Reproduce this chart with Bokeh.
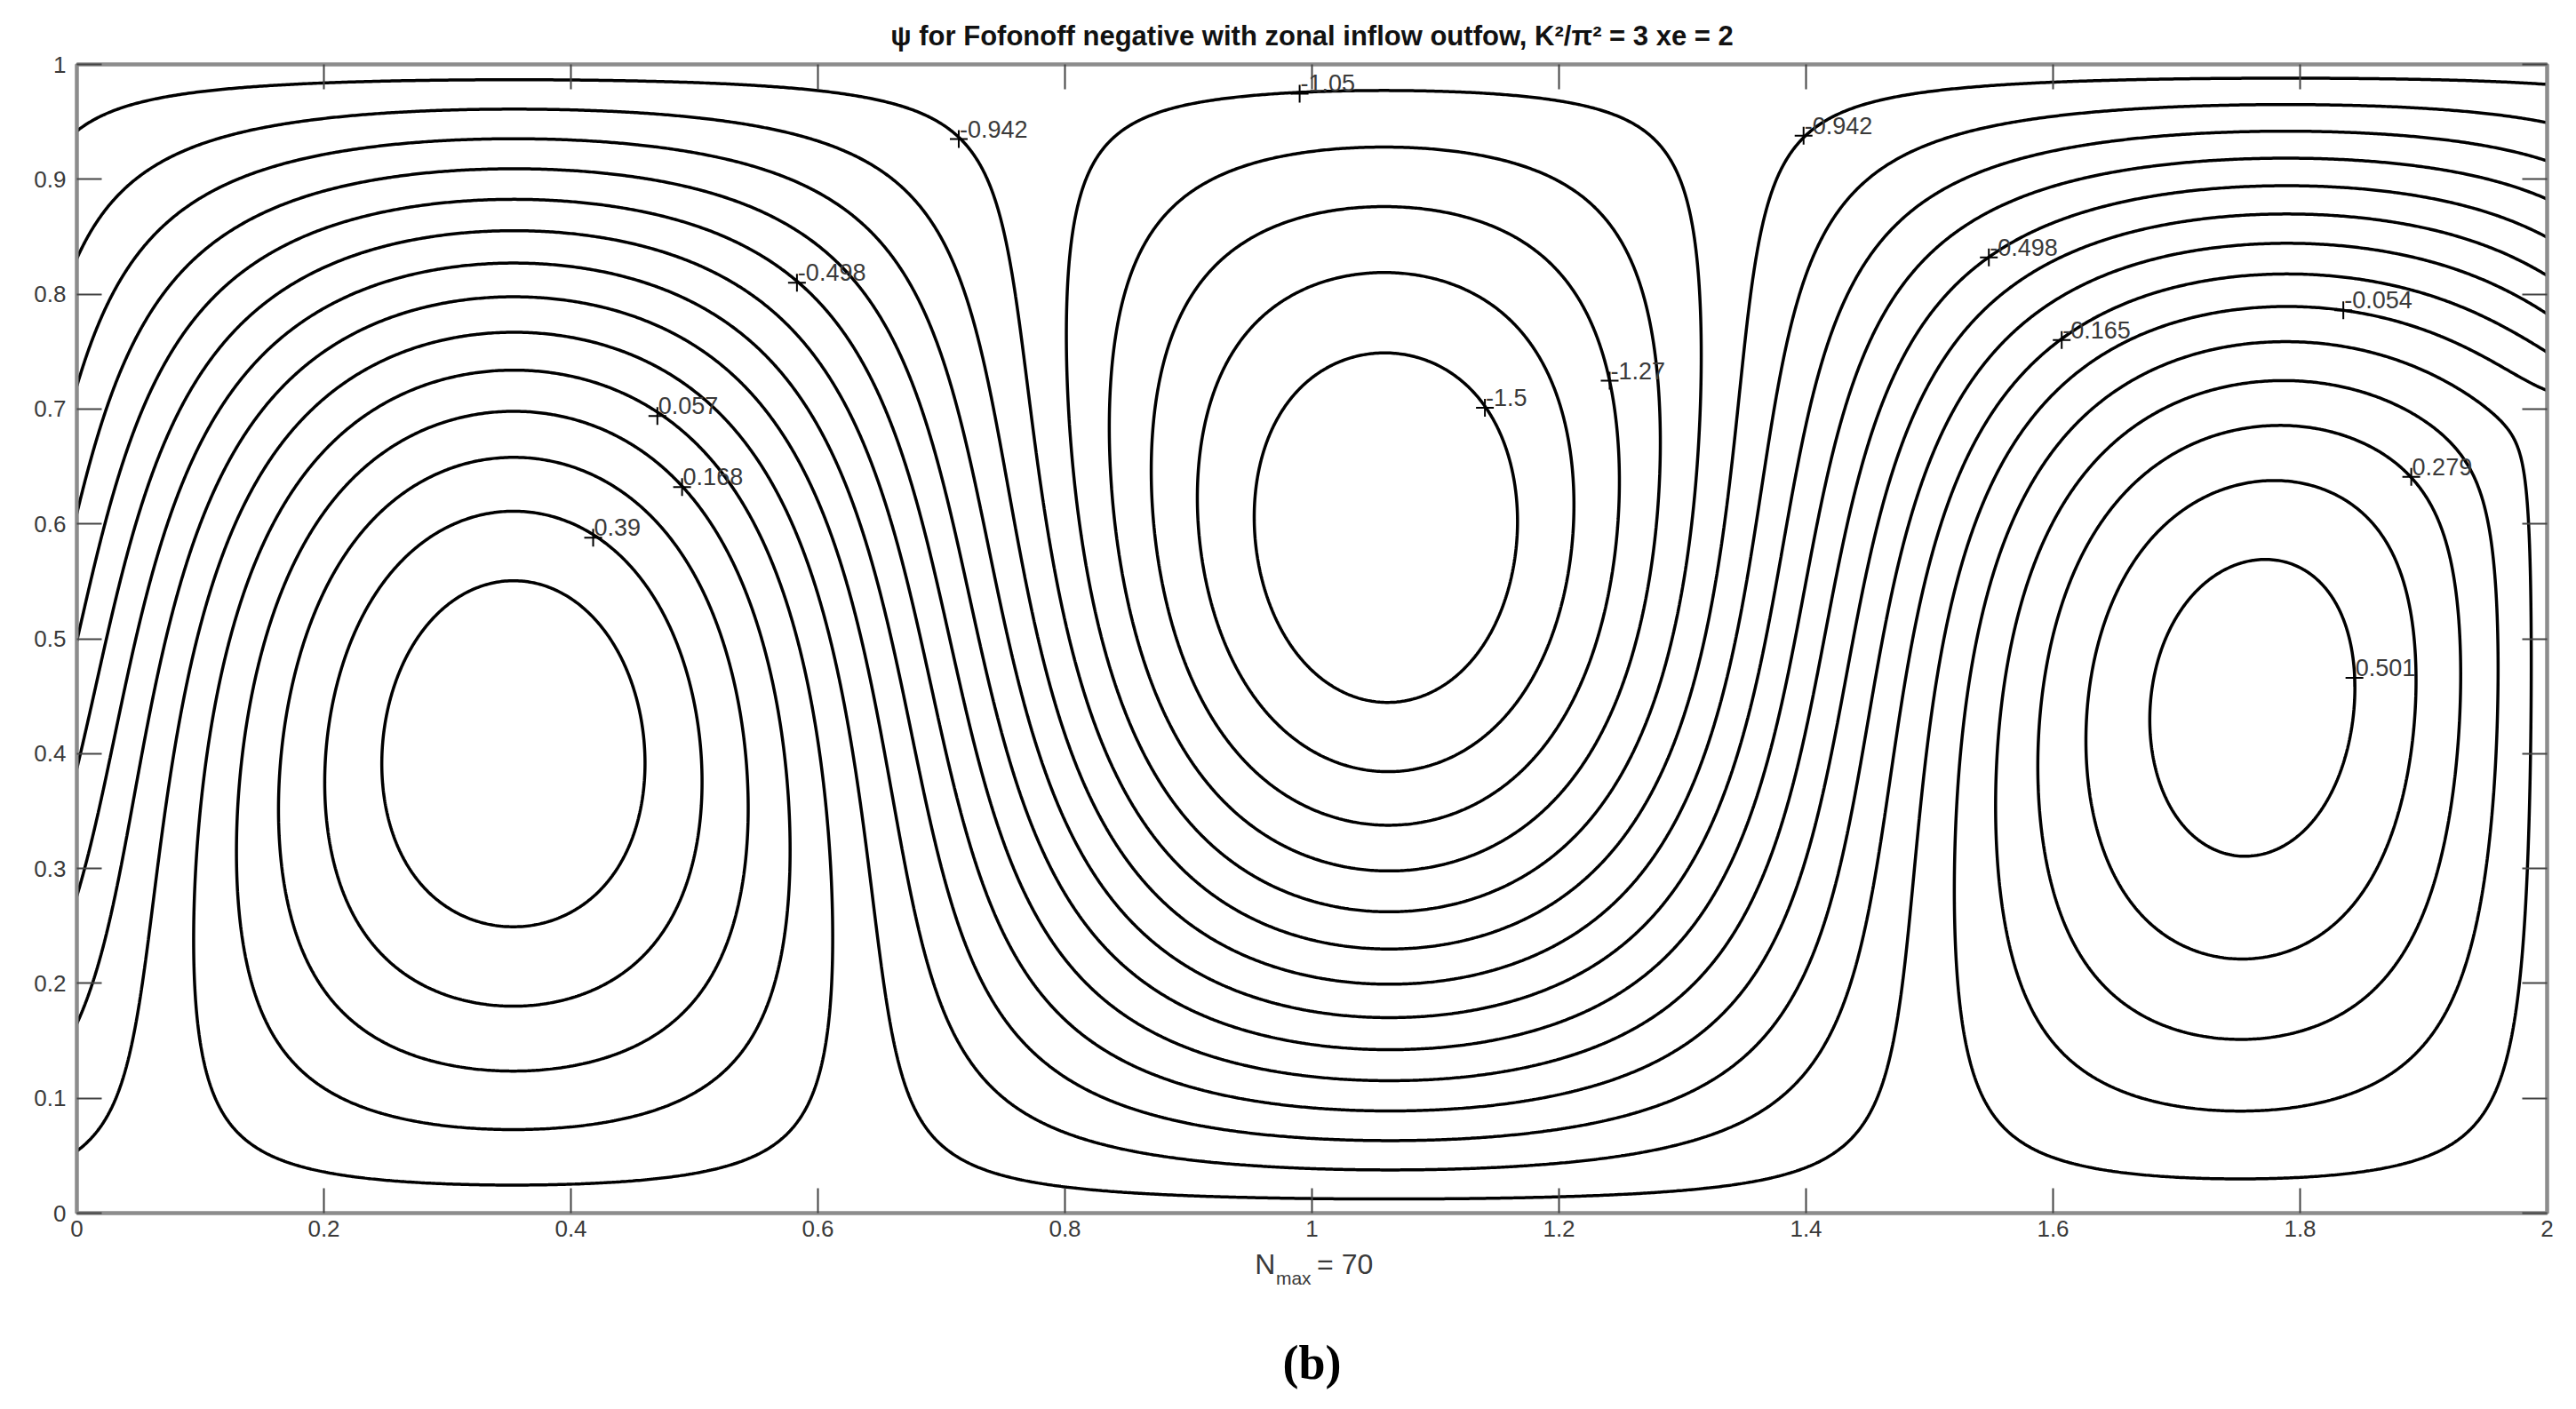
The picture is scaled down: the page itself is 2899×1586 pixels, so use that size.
import numpy as np
from bokeh.plotting import figure
from bokeh.layouts import column
from bokeh.models import FixedTicker, LinearAxis, Range1d
from bokeh.core.properties import value
from bokeh.embed import file_html
from bokeh.resources import INLINE

# ---- model parameters (read from the title / picture) ----
K2_over_pi2 = 3.0          # K^2 / pi^2
xe = 2.0                   # basin length
n_max = 70                 # number of Fourier modes
outflow_band_bottom = 0.70 # at x = xe: psi = 0 below, linear to -1 at y = 1

# contour levels (as labelled in the picture)
levels = [-1.496, -1.385, -1.274, -1.163, -1.052, -0.942, -0.831, -0.720,
          -0.609, -0.498, -0.387, -0.276, -0.165, -0.054, 0.057, 0.168,
          0.279, 0.390, 0.501]

# inline contour labels
label_x = [0.470, 0.490, 0.418, 0.583, 0.714, 0.990, 1.140, 1.241,
           1.398, 1.548, 1.607, 1.835, 1.890, 1.844]
label_y = [0.694, 0.632, 0.588, 0.810, 0.935, 0.9745, 0.701, 0.7246,
           0.938, 0.832, 0.760, 0.786, 0.641, 0.466]
label_text = ["0.057", "0.168", "0.39", "-0.498", "-0.942", "-1.05", "-1.5",
              "-1.27", "-0.942", "-0.498", "-0.165", "-0.054", "0.279", "0.501"]

x_ticks = [0, 0.2, 0.4, 0.6, 0.8, 1, 1.2, 1.4, 1.6, 1.8, 2]
x_tick_labels = ["0", "0.2", "0.4", "0.6", "0.8", "1", "1.2", "1.4", "1.6", "1.8", "2"]
y_ticks = [0, 0.1, 0.2, 0.3, 0.4, 0.5, 0.6, 0.7, 0.8, 0.9, 1]
y_tick_labels = ["0", "0.1", "0.2", "0.3", "0.4", "0.5", "0.6", "0.7", "0.8", "0.9", "1"]

title_text = "\u03c8 for Fofonoff negative with zonal inflow outfow, K\u00b2/\u03c0\u00b2 = 3 xe = 2"
xlabel_main = "N"
xlabel_sub = "max"
xlabel_rest = "= 70"
panel_tag = "(b)"

# ---- stream function: psi = -y + sum_n b_n X_n(x) sin(n pi y) ----
K = np.pi * np.sqrt(K2_over_pi2)
xs = np.linspace(0.0, xe, 1201)
ys = np.linspace(0.0, 1.0, 601)
X, Y = np.meshgrid(xs, ys)
yq = np.linspace(0.0, 1.0, 20001)
g_out = np.where(yq < outflow_band_bottom, 0.0,
                 -(yq - outflow_band_bottom) / (1.0 - outflow_band_bottom))
phi_edge = yq + g_out
psi = -Y.copy()
for n in range(1, n_max + 1):
    bn = 2.0 * np.trapezoid(phi_edge * np.sin(n * np.pi * yq), yq)
    m2 = (n * np.pi) ** 2 - K ** 2
    if m2 < 0:
        k = np.sqrt(-m2)
        Xn = np.sin(k * xs) / np.sin(k * xe)
    else:
        mu = np.sqrt(m2)
        Xn = np.exp(mu * (xs - xe)) * (1 - np.exp(-2 * mu * xs)) / (1 - np.exp(-2 * mu * xe))
    psi += bn * Xn[None, :] * np.sin(n * np.pi * Y)

FONT = "Liberation Sans"
GRAY = "#8c8c8c"
TXT = "#3a3a3a"

# ---- main figure ----
p = figure(width=2890, height=1406, output_backend="svg", toolbar_location=None,
           x_range=Range1d(0, 2), y_range=Range1d(0, 1),
           min_border_left=86, min_border_right=24, min_border_top=72, min_border_bottom=41,
           x_axis_location=None, y_axis_location=None)
p.grid.visible = False
p.outline_line_color = GRAY
p.outline_line_width = 4
p.background_fill_color = "white"
p.border_fill_color = "white"

p.title.text = title_text
p.title.align = "center"
p.title.text_font = FONT
p.title.text_font_size = "31px"
p.title.text_font_style = "bold"
p.title.text_color = "#111111"
p.title.standoff = 30

def make_axis(ticks, labels, show_labels, standoff=8):
    ax = LinearAxis(ticker=FixedTicker(ticks=ticks))
    ax.major_label_overrides = {t: l for t, l in zip(ticks, labels)}
    ax.major_tick_in = 28
    ax.major_tick_out = 0
    ax.minor_tick_line_color = None
    ax.axis_line_color = GRAY
    ax.axis_line_width = 4
    ax.major_tick_line_color = "#444444"
    ax.major_tick_line_width = 2
    ax.major_label_text_font = FONT
    if show_labels:
        ax.major_label_text_color = TXT
        ax.major_label_text_font_size = "26px"
        ax.major_label_standoff = standoff
    else:
        ax.major_label_text_color = None
        ax.major_label_text_font_size = "1px"
        ax.major_label_standoff = 0
    return ax

p.add_layout(make_axis(x_ticks, x_tick_labels, True, 8), "below")
p.add_layout(make_axis(y_ticks, y_tick_labels, True, 12), "left")
p.add_layout(make_axis(x_ticks, x_tick_labels, False), "above")
p.add_layout(make_axis(y_ticks, y_tick_labels, False), "right")

p.contour(xs, ys, psi, levels=levels, line_color="black", line_width=3.5)

p.scatter(label_x, label_y, marker="cross", size=20, line_color="black", line_width=2)
p.text(label_x, label_y, text=label_text, text_font=value(FONT), text_font_size="27px",
       text_color=TXT, text_baseline="bottom", text_align="left", x_offset=1, y_offset=-2)

# ---- caption strip below the axes (x label and panel tag) ----
cap = figure(width=2890, height=176, output_backend="svg", toolbar_location=None,
             x_range=Range1d(0, 2), y_range=Range1d(176, 0),
             min_border_left=86, min_border_right=24, min_border_top=0, min_border_bottom=0,
             x_axis_location=None, y_axis_location=None)
cap.grid.visible = False
cap.outline_line_color = None
cap.background_fill_color = "white"
cap.border_fill_color = "white"

cap.text([0.9537], [16], text=[xlabel_main], text_font=value(FONT), text_font_size="32px",
         text_color=TXT, text_baseline="alphabetic", text_align="left")
cap.text([0.9708], [32], text=[xlabel_sub], text_font=value(FONT), text_font_size="21px",
         text_color=TXT, text_baseline="alphabetic", text_align="left")
cap.text([1.004], [16], text=[xlabel_rest], text_font=value(FONT), text_font_size="32px",
         text_color=TXT, text_baseline="alphabetic", text_align="left")
cap.text([1.0], [127], text=[panel_tag], text_font=value("Liberation Serif"),
         text_font_size="54px", text_font_style="bold", text_color="black",
         text_baseline="alphabetic", text_align="center")

open("out.html", "w").write(file_html(column(p, cap), INLINE))
